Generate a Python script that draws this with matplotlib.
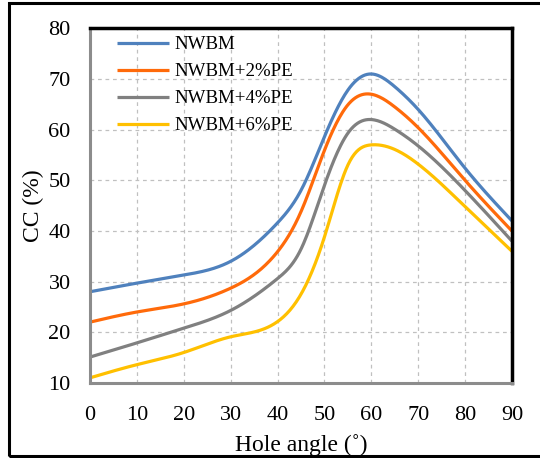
import numpy as np
import matplotlib
matplotlib.use('Agg')
import matplotlib.pyplot as plt
from matplotlib.patches import Rectangle

plt.rcParams['font.family'] = ['Liberation Serif', 'DejaVu Serif']

# 数据
angle = [0, 10, 20, 30, 40, 45, 50, 55, 60, 65, 70, 80, 90]
nwbm = [28, 29.7, 31.3, 34, 41.6, 48, 58.6, 67.8, 71, 68.5, 64, 52.4, 42]
pe2 = [22, 24, 25.6, 28.7, 35.9, 43.8, 55.9, 64.9, 67, 64.5, 60.4, 50, 40]
pe4 = [15.1, 17.9, 20.8, 24.3, 30.6, 36.4, 49, 59.3, 62, 60.1, 56.8, 48, 38]
pe6 = [11, 13.6, 16, 19.1, 22.1, 27.5, 38.8, 53, 57, 56.1, 53.2, 44.8, 36]
labels = ['NWBM', 'NWBM+2%PE', 'NWBM+4%PE', 'NWBM+6%PE']
colors = ['#4F81BD', '#FF6A0A', '#808080', '#FFC000']


def smooth(x, y, n=400):
    # 自然三次样条
    x = np.asarray(x, float)
    y = np.asarray(y, float)
    k = len(x)
    h = np.diff(x)
    A = np.zeros((k, k))
    b = np.zeros(k)
    A[0, 0] = A[-1, -1] = 1
    for i in range(1, k - 1):
        A[i, i - 1] = h[i - 1]
        A[i, i] = 2 * (h[i - 1] + h[i])
        A[i, i + 1] = h[i]
        b[i] = 6 * ((y[i + 1] - y[i]) / h[i] - (y[i] - y[i - 1]) / h[i - 1])
    M = np.linalg.solve(A, b)
    xs = np.linspace(x[0], x[-1], n)
    idx = np.clip(np.searchsorted(x, xs) - 1, 0, k - 2)
    x0, x1 = x[idx], x[idx + 1]
    hh = x1 - x0
    a = (x1 - xs) / hh
    c = (xs - x0) / hh
    ys = (a * y[idx] + c * y[idx + 1]
          + ((a**3 - a) * M[idx] + (c**3 - c) * M[idx + 1]) * hh**2 / 6)
    return xs, ys


fig = plt.figure(figsize=(5.4, 4.58), dpi=100)
ax = fig.add_axes([0.1667, 0.164, 0.7813, 0.774])

for ys, lab, c in zip([nwbm, pe2, pe4, pe6], labels, colors):
    sx, sy = smooth(angle, ys)
    ax.plot(sx, sy, color=c, lw=2.3, label=lab, solid_capstyle='butt')

ax.set_xlim(0, 90)
ax.set_ylim(10, 80)
ax.set_xticks(range(0, 91, 10))
ax.set_yticks(range(10, 81, 10))
ax.tick_params(length=0, labelsize=16)
ax.tick_params(axis='y', pad=14)
ax.tick_params(axis='x', pad=17)
ax.grid(True, ls=(0, (3, 3)), color='#c0c0c0', lw=0.9)
ax.set_xlabel('Hole angle (˚)', fontsize=17, labelpad=6)
ax.set_ylabel('CC (%)', fontsize=17, labelpad=3)

for s in ['top', 'right']:
    ax.spines[s].set_color('black')
    ax.spines[s].set_linewidth(2.5)
for s in ['left', 'bottom']:
    ax.spines[s].set_color('#8c8c8c')
    ax.spines[s].set_linewidth(2.2)

ax.legend(loc='upper left', frameon=False, fontsize=13.6, handlelength=2.75,
          handletextpad=0.3, labelspacing=0.52, borderaxespad=0.0,
          bbox_to_anchor=(0.045, 1.0))

fig.patches.append(Rectangle((9 / 540, 2 / 458), 1.0, 453 / 458, transform=fig.transFigure,
                             fill=False, edgecolor='black', lw=2.2))

fig.savefig('out.png', dpi=100)
